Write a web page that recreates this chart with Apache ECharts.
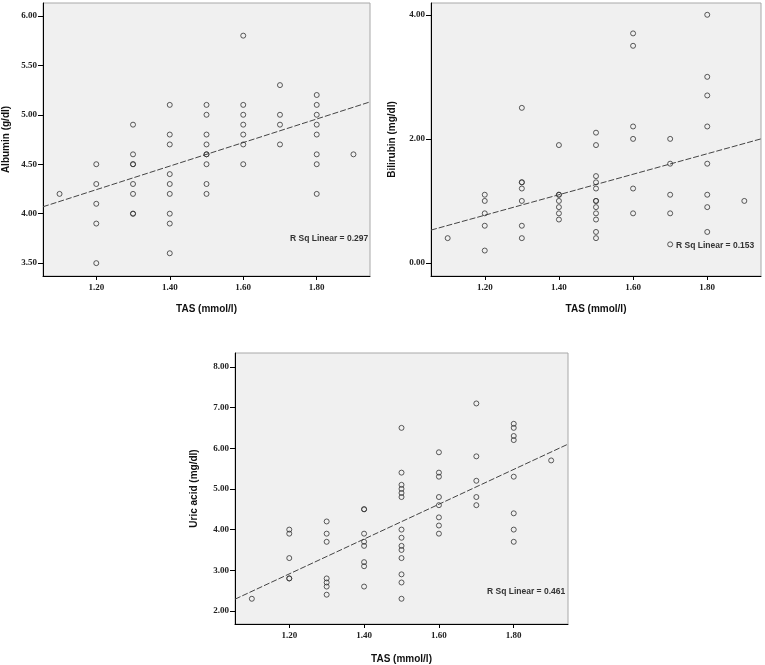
<!DOCTYPE html>
<html>
<head>
<meta charset="utf-8">
<script src="https://cdn.jsdelivr.net/npm/echarts@6/dist/echarts.min.js"></script>
<style>
html,body{margin:0;padding:0;background:#fff;}
#chart{width:765px;height:665px;}
</style>
</head>
<body>
<div id="chart"></div>
<script>
// ---- Data ----
var tasTicks = [1.20, 1.40, 1.60, 1.80];

var albuminTAS  = [1.10, 1.20,1.20,1.20,1.20,1.20, 1.30,1.30,1.30,1.30,1.30,1.30,1.30,1.30, 1.40,1.40,1.40,1.40,1.40,1.40,1.40,1.40,1.40, 1.50,1.50,1.50,1.50,1.50,1.50,1.50,1.50,1.50, 1.60,1.60,1.60,1.60,1.60,1.60,1.60, 1.70,1.70,1.70,1.70, 1.80,1.80,1.80,1.80,1.80,1.80,1.80,1.80, 1.90];
var albuminVals = [4.20, 4.50,4.30,4.10,3.90,3.50, 4.90,4.60,4.50,4.50,4.30,4.20,4.00,4.00, 5.10,4.80,4.70,4.40,4.30,4.20,4.00,3.90,3.60, 5.10,5.00,4.80,4.70,4.60,4.60,4.50,4.30,4.20, 5.80,5.10,5.00,4.90,4.80,4.70,4.50, 5.30,5.00,4.90,4.70, 5.20,5.10,5.00,4.90,4.80,4.60,4.50,4.20, 4.60];
var albuminTicks = [3.50, 4.00, 4.50, 5.00, 5.50, 6.00];
var albuminFit = [[1.055, 4.07], [1.945, 5.13]];
var albuminR2 = 'R Sq Linear = 0.297';

var biliTAS  = [1.10, 1.20,1.20,1.20,1.20,1.20, 1.30,1.30,1.30,1.30,1.30,1.30,1.30, 1.40,1.40,1.40,1.40,1.40,1.40,1.40, 1.50,1.50,1.50,1.50,1.50,1.50,1.50,1.50,1.50,1.50,1.50,1.50, 1.60,1.60,1.60,1.60,1.60,1.60, 1.70,1.70,1.70,1.70,1.70, 1.80,1.80,1.80,1.80,1.80,1.80,1.80,1.80, 1.90];
var biliVals = [0.40, 1.10,1.00,0.80,0.60,0.20, 2.50,1.30,1.30,1.20,1.00,0.60,0.40, 1.90,1.10,1.10,1.00,0.90,0.80,0.70, 2.10,1.90,1.40,1.30,1.20,1.00,1.00,0.90,0.80,0.70,0.50,0.40, 3.70,3.50,2.20,2.00,1.20,0.80, 2.00,1.60,1.10,0.80,0.30, 4.00,3.00,2.70,2.20,1.60,1.10,0.90,0.50, 1.00];
var biliTicks = [0.00, 2.00, 4.00];
var biliFit = [[1.055, 0.53], [1.945, 2.00]];
var biliR2 = 'R Sq Linear = 0.153';

var uricTAS  = [1.10, 1.20,1.20,1.20,1.20,1.20, 1.30,1.30,1.30,1.30,1.30,1.30,1.30, 1.40,1.40,1.40,1.40,1.40,1.40,1.40,1.40, 1.50,1.50,1.50,1.50,1.50,1.50,1.50,1.50,1.50,1.50,1.50,1.50,1.50,1.50, 1.60,1.60,1.60,1.60,1.60,1.60,1.60,1.60, 1.70,1.70,1.70,1.70,1.70, 1.80,1.80,1.80,1.80,1.80,1.80,1.80,1.80, 1.90];
var uricVals = [2.30, 4.00,3.90,3.30,2.80,2.80, 4.20,3.90,3.70,2.80,2.70,2.60,2.40, 4.50,4.50,3.90,3.70,3.60,3.20,3.10,2.60, 6.50,5.40,5.10,5.00,4.90,4.80,4.00,3.80,3.60,3.50,3.30,2.90,2.70,2.30, 5.90,5.40,5.30,4.80,4.60,4.30,4.10,3.90, 7.10,5.80,5.20,4.80,4.60, 6.60,6.50,6.30,6.20,5.30,4.40,4.00,3.70, 5.70];
var uricTicks = [2.00, 3.00, 4.00, 5.00, 6.00, 7.00, 8.00];
var uricFit = [[1.055, 2.29], [1.945, 6.10]];
var uricR2 = 'R Sq Linear = 0.461';

// ---- Build chart ----
function pairs(xs, ys){ return xs.map(function(x,i){ return [x, ys[i]]; }); }

var tickFont = {fontFamily:'Liberation Serif', fontWeight:'bold', fontSize:9, color:'#222'};
var titleFont = {fontFamily:'Liberation Sans', fontWeight:'bold', fontSize:10, color:'#111'};

function xAxisCfg(gi, nameGap){
  return {
    type:'value', gridIndex:gi, min:1.055, max:1.945,
    name:'TAS (mmol/l)', nameLocation:'middle', nameGap:nameGap,
    nameTextStyle:titleFont,
    axisLine:{show:true, onZero:false, lineStyle:{color:'#000', width:1}},
    axisTick:{show:true, length:4, customValues:tasTicks, lineStyle:{color:'#000'}},
    axisLabel:Object.assign({customValues:tasTicks, margin:7,
      formatter:function(v){return v.toFixed(2);}}, tickFont),
    splitLine:{show:false}
  };
}
function yAxisCfg(gi, name, min, max, ticks, nameGap){
  return {
    type:'value', gridIndex:gi, min:min, max:max,
    name:name, nameLocation:'middle', nameGap:nameGap, nameRotate:90,
    nameTextStyle:titleFont,
    axisLine:{show:true, onZero:false, lineStyle:{color:'#000', width:1}},
    axisTick:{show:true, length:5, customValues:ticks, lineStyle:{color:'#000'}},
    axisLabel:Object.assign({customValues:ticks, margin:6,
      formatter:function(v){return v.toFixed(2);}}, tickFont),
    splitLine:{show:false}
  };
}
function scatter(gi, data){
  return {
    type:'scatter', xAxisIndex:gi, yAxisIndex:gi, data:data,
    symbol:'circle', symbolSize:5,
    itemStyle:{color:'rgba(0,0,0,0)', borderColor:'#333', borderWidth:1},
    silent:true, z:3
  };
}
function fit(gi, data){
  return {
    type:'line', xAxisIndex:gi, yAxisIndex:gi, data:data,
    symbol:'none', silent:true, z:2,
    lineStyle:{color:'#444', width:1, type:[6,2]}
  };
}

var gridBase = {show:true, backgroundColor:'#f0f0f0', borderColor:'#a8a8a8', borderWidth:1, containLabel:false};

var option = {
  backgroundColor:'#fff',
  animation:false,
  grid:[
    Object.assign({left:39, top:3, width:331, height:273}, gridBase),
    Object.assign({left:431, top:3, width:330, height:273}, gridBase),
    Object.assign({left:235, top:353, width:333, height:274}, gridBase)
  ],
  xAxis:[ xAxisCfg(0, 28), xAxisCfg(1, 28), xAxisCfg(2, 30) ],
  yAxis:[
    yAxisCfg(0, 'Albumin (g/dl)', 3.37, 6.13, albuminTicks, 32),
    yAxisCfg(1, 'Bilirubin (mg/dl)', -0.21, 4.19, biliTicks, 34),
    yAxisCfg(2, 'Uric acid (mg/dl)', 1.68, 8.34, uricTicks, 36)
  ],
  series:[
    scatter(0, pairs(albuminTAS, albuminVals)), fit(0, albuminFit),
    scatter(1, pairs(biliTAS, biliVals)), fit(1, biliFit),
    scatter(2, pairs(uricTAS, uricVals)), fit(2, uricFit)
  ],
  graphic:[
    {type:'text', left:290, top:234, style:{text:albuminR2, font:'bold 8.5px "Liberation Sans"', fill:'#333'}},
    {type:'text', left:676, top:241, style:{text:biliR2, font:'bold 8.5px "Liberation Sans"', fill:'#333'}},
    {type:'text', left:487, top:587, style:{text:uricR2, font:'bold 8.5px "Liberation Sans"', fill:'#333'}}
  ]
};

var chart = echarts.init(document.getElementById('chart'), null, {renderer:'canvas'});
chart.setOption(option);
</script>
</body>
</html>
